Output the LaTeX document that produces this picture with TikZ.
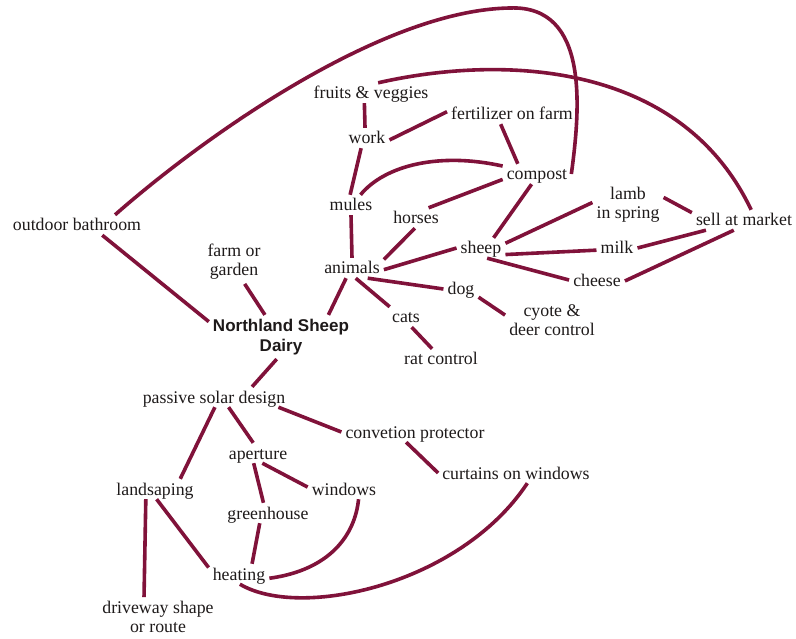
\documentclass[tikz,border=0pt]{standalone}
\usepackage{fontspec}
\setmainfont{Liberation Serif}
\newfontfamily\headfont{Liberation Sans}
\definecolor{wine}{RGB}{128,18,58}
\definecolor{ink}{RGB}{30,26,26}
\begin{document}
\begin{tikzpicture}[x=1pt,y=-1pt,
  lbl/.style={font=\fontsize{17.8}{19}\selectfont, text=ink, inner xsep=4pt, inner ysep=4pt},
  one/.style={lbl, text height=12pt, text depth=0pt},
  two/.style={lbl, align=center},
  head/.style={two, font=\headfont\bfseries\fontsize{17}{20}\selectfont},
  link/.style={draw=wine, line width=3.6pt}]
\fill[white] (0,0) rectangle (796,639);
\useasboundingbox (0,0) rectangle (796,639);

% concepts
\node[one] (fv)     at (371,93)  {fruits \& veggies};
\node[one] (work)   at (367,138) {work};
\node[one] (fert)   at (512,114) {fertilizer on farm};
\node[one] (comp)   at (537,174) {compost};
\node[one] (mules)  at (351,205) {mules};
\node[one] (horses) at (416,218) {horses};
\node[one] (sheep)  at (481,248) {sheep};
\node[two] (lamb)   at (628,205) {lamb\\in spring};
\node[one] (sell)   at (744,220) {sell at market};
\node[one] (milk)   at (617,248) {milk};
\node[one] (cheese) at (597,281) {cheese};
\node[one] (bath)   at (77,225)  {outdoor bathroom};
\node[two] (farm)   at (234,262) {farm or\\garden};
\node[one] (anim)   at (352,268) {animals};
\node[one] (dog)    at (461,289) {dog};
\node[two] (cyote)  at (552,320) {cyote \&\\deer control};
\node[one] (cats)   at (406,317) {cats};
\node[one] (rat)    at (441,359) {rat control};
\node[head] (nsd)   at (281,337) {Northland Sheep\\Dairy};
\node[one] (psd)    at (214,397) {passive solar design};
\node[one] (conv)   at (415,432) {convetion protector};
\node[one] (aper)   at (258,453) {aperture};
\node[one] (curt)   at (516,473) {curtains on windows};
\node[one] (land)   at (155,489) {landsaping};
\node[one] (win)    at (344,489) {windows};
\node[one] (green)  at (268,513) {greenhouse};
\node[one] (heat)   at (239,574) {heating};
\node[two] (drive)  at (158,617) {driveway shape\\or route};

% links
\draw[link] (fv.-123) -- (work.101);
\draw[link] (work.-5) -- (fert.178);
\draw[link] (work.-120) -- (mules.95);
\draw[link] (mules.47) .. controls (385,165) and (440,152) .. (comp.167);
\draw[link] (fert.-138) -- (comp.152);
\draw[link] (comp.-171) -- (horses.39);
\draw[link] (comp.-118) -- (sheep.39);
\draw[link] (comp.east) .. controls (580,110) and (590,5) .. (510,8)
                        .. controls (380,10) and (200,140) .. (bath.15);
\draw[link] (fv.55) .. controls (500,55) and (680,60) .. (sell.55);
\draw[link] (mules.south) -- (anim.north);
\draw[link] (horses.-96) -- (anim.15);
\draw[link] (anim.-3) -- (sheep.west);
\draw[link] (anim.-33) -- (dog.west);
\draw[link] (anim.-70) -- (cats.148);
\draw[link] (anim.-120) -- (nsd.25);
\draw[link] (cats.-61) -- (rat.131);
\draw[link] (dog.-25) -- (cyote.174);
\draw[link] (sheep.11) -- (lamb.176);
\draw[link] (sheep.-15) -- (milk.-174);
\draw[link] (sheep.-59) -- (cheese.178);
\draw[link] (lamb.12) -- (sell.172);
\draw[link] (milk.east) -- (sell.-165);
\draw[link] (cheese.east) -- (sell.-135);
\draw[link] (farm.-64) -- (nsd.126);
\draw[link] (bath.-22) -- (nsd.168);
\draw[link] (nsd.-101) -- (psd.15);
\draw[link] (psd.-85) -- (land.22);
\draw[link] (psd.-35) -- (aper.115);
\draw[link] (psd.-9) -- (conv.west);
\draw[link] (conv.-131) -- (curt.west);
\draw[link] (aper.-113) -- (green.114);
\draw[link] (aper.-67) -- (win.177);
\draw[link] (land.-132) -- (drive.125);
\draw[link] (land.-81) -- (heat.168);
\draw[link] (green.-129) -- (heat.38);
\draw[link] (win.-35) .. controls (355,535) and (330,570) .. (heat.-8);
\draw[link] (heat.-85) .. controls (300,620) and (460,585) .. (curt.-42);
\end{tikzpicture}
\end{document}
